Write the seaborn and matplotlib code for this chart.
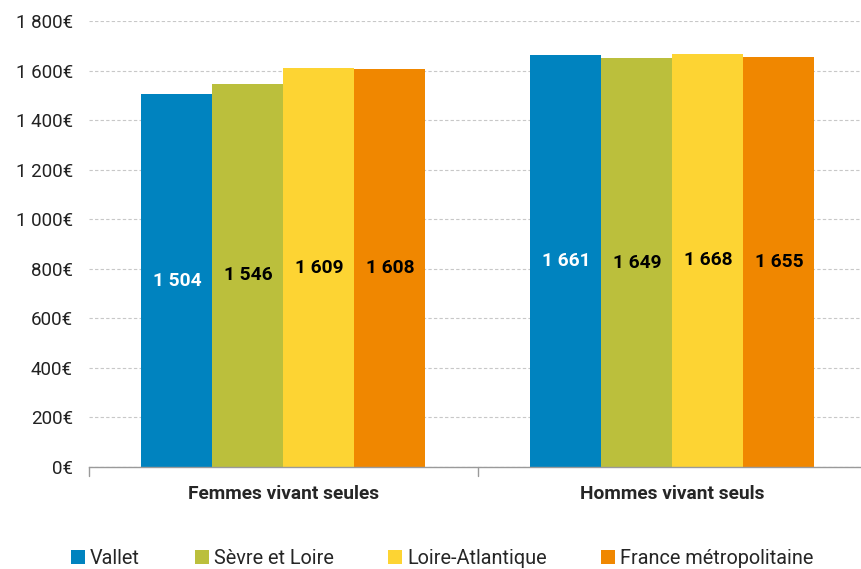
import matplotlib
matplotlib.use("Agg")
import matplotlib.pyplot as plt
from matplotlib.patches import Patch
from matplotlib.ticker import FuncFormatter
import seaborn as sns
import pandas as pd

groups = ["Femmes vivant seules", "Hommes vivant seuls"]
territories = ["Vallet", "Sèvre et Loire", "Loire-Atlantique", "France métropolitaine"]
values_femmes = [1504, 1546, 1609, 1608]
values_hommes = [1661, 1649, 1668, 1655]
colors = ["#0083BF", "#BBBF3C", "#FDD433", "#F08700"]
label_colors = ["white", "black", "black", "black"]

rows = []
for g, vals in zip(groups, [values_femmes, values_hommes]):
    for t, v in zip(territories, vals):
        rows.append({"groupe": g, "territoire": t, "revenu": v})
df = pd.DataFrame(rows)

sns.set_style("white")
plt.rcParams["font.family"] = ["Roboto", "DejaVu Sans"]

fig = plt.figure(figsize=(8.62, 5.69), dpi=100)
ax = fig.add_axes([0.1032, 0.1793, 0.9026, 0.7837])

sns.barplot(data=df, x="groupe", y="revenu", hue="territoire",
            order=groups, hue_order=territories, palette=colors,
            width=0.73, gap=0, saturation=1, legend=False, ax=ax,
            errorbar=None, edgecolor="none")

ax.set_xlim(-0.5, 1.5)
ax.set_ylim(0, 1800)
ax.set_yticks(range(0, 1801, 200))
ax.yaxis.set_major_formatter(FuncFormatter(
    lambda v, p: f"{int(v):,}".replace(",", " ") + "€"))
ax.grid(axis="y", color="#c8c8c8", linestyle=(0, (3, 2)), linewidth=0.8)
ax.set_axisbelow(True)
for s in ["left", "right", "top"]:
    ax.spines[s].set_visible(False)
ax.spines["bottom"].set_color("#9a9a9a")
ax.spines["bottom"].set_linewidth(1.0)

ax.tick_params(axis="y", length=0, pad=11.5, labelsize=13.5, labelcolor="#222222")
ax.set_xticks([0, 1])
ax.set_xticklabels(groups, fontsize=13.8, fontweight="bold")
ax.tick_params(axis="x", length=0, pad=13)
for xt in [-0.5, 0.5, 1.5]:
    ax.plot([xt, xt], [0, -0.02], transform=ax.get_xaxis_transform(),
            color="#9a9a9a", lw=1.0, clip_on=False)
ax.set_xlabel("")
ax.set_ylabel("")

for i, cont in enumerate(ax.containers):
    ax.bar_label(cont, labels=[f"{int(v):,}".replace(",", " ") for v in cont.datavalues],
                 label_type="center", color=label_colors[i],
                 fontsize=13.8, fontweight="bold")

handles = [Patch(facecolor=c, edgecolor="none") for c in colors]
fig.legend(handles, territories, loc="lower left", bbox_to_anchor=(0.062, -0.030),
           ncol=4, frameon=False, handlelength=0.7, handleheight=0.7,
           handletextpad=0.25, columnspacing=2.75,
           prop={"size": 14.3})

fig.savefig("out.png", dpi=100)
